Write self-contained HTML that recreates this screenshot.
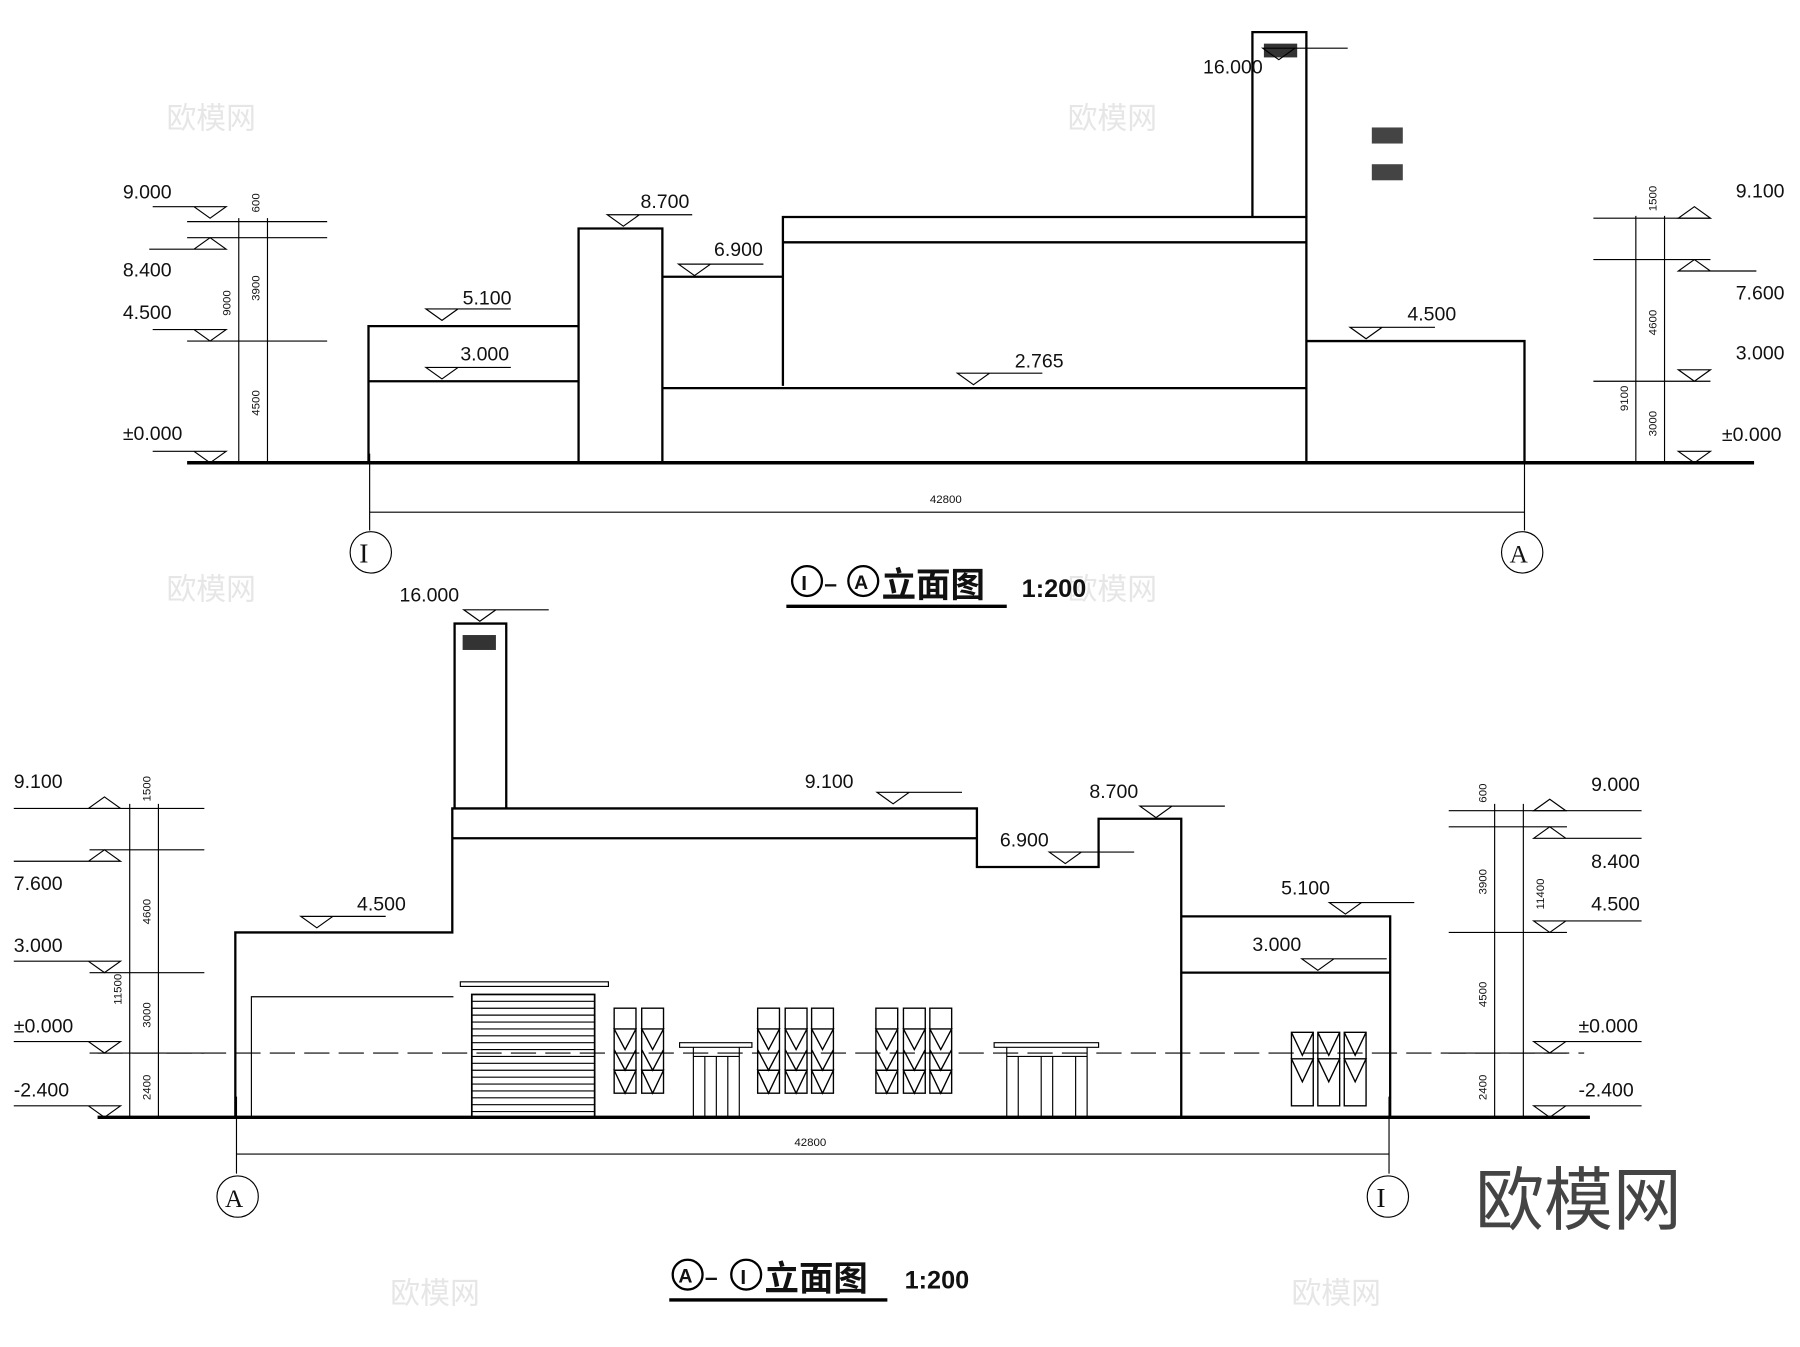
<!DOCTYPE html>
<html><head><meta charset="utf-8"><style>
html,body{margin:0;padding:0;background:#fff;}
svg{display:block;}
text{font-family:"Liberation Sans","Noto Sans CJK SC",sans-serif;fill:#111;}
.l{stroke:#000;stroke-width:2;fill:none;}
.t{stroke:#000;stroke-width:1;fill:none;}
.lbl{font-size:17px;}
.sm{font-size:10px;}
.wm{fill:#e6e6e6;font-size:26px;}
</style></head><body>
<svg width="1800" height="1347" viewBox="0 0 1568 1173" preserveAspectRatio="none" xmlns="http://www.w3.org/2000/svg">
<defs>
<g id="tri"><path class="t" d="M-14,-10 L14,-10 L0,0 Z M-14,-10 L-50,-10"/></g>
<g id="triL"><path class="t" d="M-14,-10 L14,-10 L0,0 Z M14,-10 L60,-10"/></g>
</defs>
<!-- watermarks -->
<text class="wm" x="145" y="112">欧模网</text><text class="wm" x="930" y="112">欧模网</text>
<text class="wm" x="145" y="522">欧模网</text><text class="wm" x="930" y="522">欧模网</text>
<text class="wm" x="340" y="1135">欧模网</text><text class="wm" x="1125" y="1135">欧模网</text>

<!-- ===== TOP ELEVATION ===== -->
<line class="l" x1="163" y1="403" x2="1528" y2="403" style="stroke-width:3"/>
<path class="l" d="M321,403 V284 H504 M321,332 H504 M504,403 V199 H577 V403 M577,241 H682 M577,338 H1138 M682,336 V189 H1138 V403 M682,211 H1138 M1138,297 H1328 V403"/>
<path class="l" d="M1091,189 V28 H1138 V189"/>
<rect x="1101" y="38" width="29" height="12" fill="#333"/>
<rect x="1195" y="111" width="27" height="14" fill="#444"/>
<rect x="1195" y="143" width="27" height="14" fill="#444"/>
<use href="#tri" x="183" y="190"/><text class="lbl" x="107" y="173">9.000</text>
<path class="t" d="M169,217 L197,217 L183,207 Z M169,217 L130,217"/><text class="lbl" x="107" y="241">8.400</text>
<use href="#tri" x="183" y="297"/><text class="lbl" x="107" y="278">4.500</text>
<use href="#tri" x="183" y="403"/><text class="lbl" x="107" y="383">±0.000</text>
<path class="t" d="M208,190 V403 M233,190 V403 M163,193 H285 M163,207 H285 M163,297 H285"/>
<text class="sm" transform="translate(226,185) rotate(-90)">600</text>
<text class="sm" transform="translate(226,262) rotate(-90)">3900</text>
<text class="sm" transform="translate(201,275) rotate(-90)">9000</text>
<text class="sm" transform="translate(226,362) rotate(-90)">4500</text>
<use href="#triL" x="385" y="279"/><text class="lbl" x="403" y="265">5.100</text>
<use href="#triL" x="385" y="330"/><text class="lbl" x="401" y="314">3.000</text>
<use href="#triL" x="543" y="197"/><text class="lbl" x="558" y="181">8.700</text>
<use href="#triL" x="605" y="240"/><text class="lbl" x="622" y="223">6.900</text>
<use href="#triL" x="848" y="335"/><text class="lbl" x="884" y="320">2.765</text>
<use href="#triL" x="1190" y="295"/><text class="lbl" x="1226" y="279">4.500</text>
<use href="#triL" x="1114" y="52"/><text class="lbl" x="1048" y="64">16.000</text>
<path class="t" d="M1425,188 V403 M1450,188 V403 M1388,190 H1490 M1388,226 H1490 M1388,332 H1490"/>
<path class="t" d="M1462,190 L1490,190 L1476,180 Z"/><text class="lbl" x="1512" y="172">9.100</text>
<path class="t" d="M1462,236 L1490,236 L1476,226 Z M1490,236 L1530,236"/><text class="lbl" x="1512" y="261">7.600</text>
<path class="t" d="M1462,322 L1490,322 L1476,332 Z"/><text class="lbl" x="1512" y="313">3.000</text>
<path class="t" d="M1462,393 L1490,393 L1476,403 Z"/><text class="lbl" x="1500" y="384">±0.000</text>
<text class="sm" transform="translate(1443,184) rotate(-90)">1500</text>
<text class="sm" transform="translate(1443,292) rotate(-90)">4600</text>
<text class="sm" transform="translate(1418,358) rotate(-90)">9100</text>
<text class="sm" transform="translate(1443,380) rotate(-90)">3000</text>
<path class="t" d="M322,446 H1328 M322,395 V462 M1328,395 V462"/>
<text class="sm" x="810" y="438">42800</text>
<circle class="t" cx="323" cy="481" r="18"/><text x="313" y="490" font-size="24" style="font-family:'Liberation Serif',serif">I</text>
<circle class="t" cx="1326" cy="481" r="18"/><text x="1315" y="490" font-size="22" style="font-family:'Liberation Serif',serif">A</text>
<circle class="l" cx="703" cy="506" r="13"/><text x="698" y="514" font-size="18" font-weight="bold">I</text>
<text x="718" y="515" font-size="20" font-weight="bold">–</text>
<circle class="l" cx="752" cy="506" r="13"/><text x="744" y="513" font-size="17" font-weight="bold">A</text>
<text x="768" y="520" font-size="30" font-weight="bold">立面图</text>
<text x="890" y="520" font-size="22" font-weight="bold">1:200</text>
<line x1="685" y1="528" x2="877" y2="528" stroke="#000" stroke-width="3"/>

<!-- ===== BOTTOM ELEVATION ===== -->
<line class="l" x1="85" y1="973" x2="1385" y2="973" style="stroke-width:3"/>
<line x1="85" y1="917" x2="1380" y2="917" stroke="#000" stroke-width="1" stroke-dasharray="22,8"/>
<path class="l" d="M205,973 V812 H394 V704 H851 V755 H957 V713 H1029 V973 M394,730 H851 M1029,798 H1211 V973 M1029,847 H1211"/>
<path class="l" d="M396,704 V543 H441 V704"/>
<rect x="403" y="553" width="29" height="13" fill="#333"/>
<path class="t" d="M219,973 V868 H395"/>
<rect x="401" y="855" width="129" height="4" fill="none" stroke="#000" stroke-width="1"/>
<rect x="411" y="866" width="107" height="107" fill="none" stroke="#000" stroke-width="1.5"/>
<g stroke="#000" stroke-width="1">
<line x1="411" y1="872" x2="518" y2="872"/><line x1="411" y1="878" x2="518" y2="878"/><line x1="411" y1="884" x2="518" y2="884"/><line x1="411" y1="890" x2="518" y2="890"/><line x1="411" y1="896" x2="518" y2="896"/><line x1="411" y1="902" x2="518" y2="902"/><line x1="411" y1="908" x2="518" y2="908"/><line x1="411" y1="914" x2="518" y2="914"/><line x1="411" y1="920" x2="518" y2="920"/><line x1="411" y1="926" x2="518" y2="926"/><line x1="411" y1="932" x2="518" y2="932"/><line x1="411" y1="938" x2="518" y2="938"/><line x1="411" y1="944" x2="518" y2="944"/><line x1="411" y1="950" x2="518" y2="950"/><line x1="411" y1="956" x2="518" y2="956"/><line x1="411" y1="962" x2="518" y2="962"/><line x1="411" y1="968" x2="518" y2="968"/>
</g>
<g stroke="#000" stroke-width="1.2" fill="none">
<path d="M535,878 h19 v74 h-19 z M535,896 h19 l-9.5,18 z M535,914 l9.5,18 l9.5,-18 M535,932 h19 l-9.5,20 z M559,878 h19 v74 h-19 z M559,896 h19 l-9.5,18 z M559,914 l9.5,18 l9.5,-18 M559,932 h19 l-9.5,20 z"/>
<path d="M660,878 h19 v74 h-19 z M660,896 h19 l-9.5,18 z M660,914 l9.5,18 l9.5,-18 M660,932 h19 l-9.5,20 z M684,878 h19 v74 h-19 z M684,896 h19 l-9.5,18 z M684,914 l9.5,18 l9.5,-18 M684,932 h19 l-9.5,20 z M707,878 h19 v74 h-19 z M707,896 h19 l-9.5,18 z M707,914 l9.5,18 l9.5,-18 M707,932 h19 l-9.5,20 z"/>
<path d="M763,878 h19 v74 h-19 z M763,896 h19 l-9.5,18 z M763,914 l9.5,18 l9.5,-18 M763,932 h19 l-9.5,20 z M787,878 h19 v74 h-19 z M787,896 h19 l-9.5,18 z M787,914 l9.5,18 l9.5,-18 M787,932 h19 l-9.5,20 z M810,878 h19 v74 h-19 z M810,896 h19 l-9.5,18 z M810,914 l9.5,18 l9.5,-18 M810,932 h19 l-9.5,20 z"/>
<path d="M1125,899 h19 v64 h-19 z M1125,899 l9.5,20 l9.5,-20 M1125,922 h19 l-9.5,20 z M1148,899 h19 v64 h-19 z M1148,899 l9.5,20 l9.5,-20 M1148,922 h19 l-9.5,20 z M1171,899 h19 v64 h-19 z M1171,899 l9.5,20 l9.5,-20 M1171,922 h19 l-9.5,20 z"/>
</g>
<path class="t" d="M592,908 H655 V912 H592 Z M604,973 V912 M644,973 V912 M614,973 V920 M634,973 V920 M604,920 H644 M624,920 V973"/>
<path class="t" d="M866,908 H957 V912 H866 Z M877,973 V912 M947,973 V912 M887,973 V920 M907,973 V920 M917,973 V920 M937,973 V920 M877,920 H947"/>
<use href="#triL" x="276" y="808"/><text class="lbl" x="311" y="793">4.500</text>
<use href="#triL" x="778" y="700"/><text class="lbl" x="701" y="686">9.100</text>
<use href="#triL" x="928" y="752"/><text class="lbl" x="871" y="737">6.900</text>
<use href="#triL" x="1007" y="712"/><text class="lbl" x="949" y="695">8.700</text>
<use href="#triL" x="1172" y="796"/><text class="lbl" x="1116" y="779">5.100</text>
<use href="#triL" x="1148" y="845"/><text class="lbl" x="1091" y="828">3.000</text>
<use href="#triL" x="418" y="541"/><text class="lbl" x="348" y="524">16.000</text>
<path class="t" d="M113,700 V973 M138,700 V973 M78,704 H178 M78,740 H178 M78,847 H178 M78,917 H178"/>
<path class="t" d="M77,704 L105,704 L91,694 Z M77,704 L12,704"/><text class="lbl" x="12" y="686">9.100</text>
<path class="t" d="M77,750 L105,750 L91,740 Z M77,750 L12,750"/><text class="lbl" x="12" y="775">7.600</text>
<path class="t" d="M77,837 L105,837 L91,847 Z M77,837 L12,837"/><text class="lbl" x="12" y="829">3.000</text>
<path class="t" d="M77,907 L105,907 L91,917 Z M77,907 L12,907"/><text class="lbl" x="12" y="899">±0.000</text>
<path class="t" d="M77,963 L105,963 L91,973 Z M77,963 L12,963"/><text class="lbl" x="12" y="955">-2.400</text>
<text class="sm" transform="translate(131,698) rotate(-90)">1500</text>
<text class="sm" transform="translate(131,805) rotate(-90)">4600</text>
<text class="sm" transform="translate(106,875) rotate(-90)">11500</text>
<text class="sm" transform="translate(131,895) rotate(-90)">3000</text>
<text class="sm" transform="translate(131,958) rotate(-90)">2400</text>
<path class="t" d="M1302,700 V973 M1327,700 V973 M1262,706 H1365 M1262,720 H1365 M1262,812 H1365 M1262,917 H1365"/>
<path class="t" d="M1336,706 L1364,706 L1350,696 Z M1364,706 L1430,706"/><text class="lbl" x="1386" y="689">9.000</text>
<path class="t" d="M1336,730 L1364,730 L1350,720 Z M1364,730 L1430,730"/><text class="lbl" x="1386" y="756">8.400</text>
<path class="t" d="M1336,802 L1364,802 L1350,812 Z M1364,802 L1430,802"/><text class="lbl" x="1386" y="793">4.500</text>
<path class="t" d="M1336,907 L1364,907 L1350,917 Z M1364,907 L1430,907"/><text class="lbl" x="1375" y="899">±0.000</text>
<path class="t" d="M1336,963 L1364,963 L1350,973 Z M1364,963 L1430,963"/><text class="lbl" x="1375" y="955">-2.400</text>
<text class="sm" transform="translate(1295,699) rotate(-90)">600</text>
<text class="sm" transform="translate(1295,779) rotate(-90)">3900</text>
<text class="sm" transform="translate(1345,792) rotate(-90)">11400</text>
<text class="sm" transform="translate(1295,877) rotate(-90)">4500</text>
<text class="sm" transform="translate(1295,958) rotate(-90)">2400</text>
<path class="t" d="M206,1005 H1210 M206,955 V1022 M1210,955 V1022"/>
<text class="sm" x="692" y="998">42800</text>
<circle class="t" cx="207" cy="1042" r="18"/><text x="196" y="1051" font-size="22" style="font-family:'Liberation Serif',serif">A</text>
<circle class="t" cx="1209" cy="1042" r="18"/><text x="1199" y="1051" font-size="24" style="font-family:'Liberation Serif',serif">I</text>
<circle class="l" cx="599" cy="1110" r="13"/><text x="591" y="1117" font-size="17" font-weight="bold">A</text>
<text x="614" y="1119" font-size="20" font-weight="bold">–</text>
<circle class="l" cx="650" cy="1110" r="13"/><text x="645" y="1118" font-size="18" font-weight="bold">I</text>
<text x="666" y="1124" font-size="30" font-weight="bold">立面图</text>
<text x="788" y="1122" font-size="22" font-weight="bold">1:200</text>
<line x1="583" y1="1132" x2="773" y2="1132" stroke="#000" stroke-width="3"/>
<text x="1285" y="1066" font-size="60" style="fill:#444">欧模网</text>
</svg>
</body></html>
